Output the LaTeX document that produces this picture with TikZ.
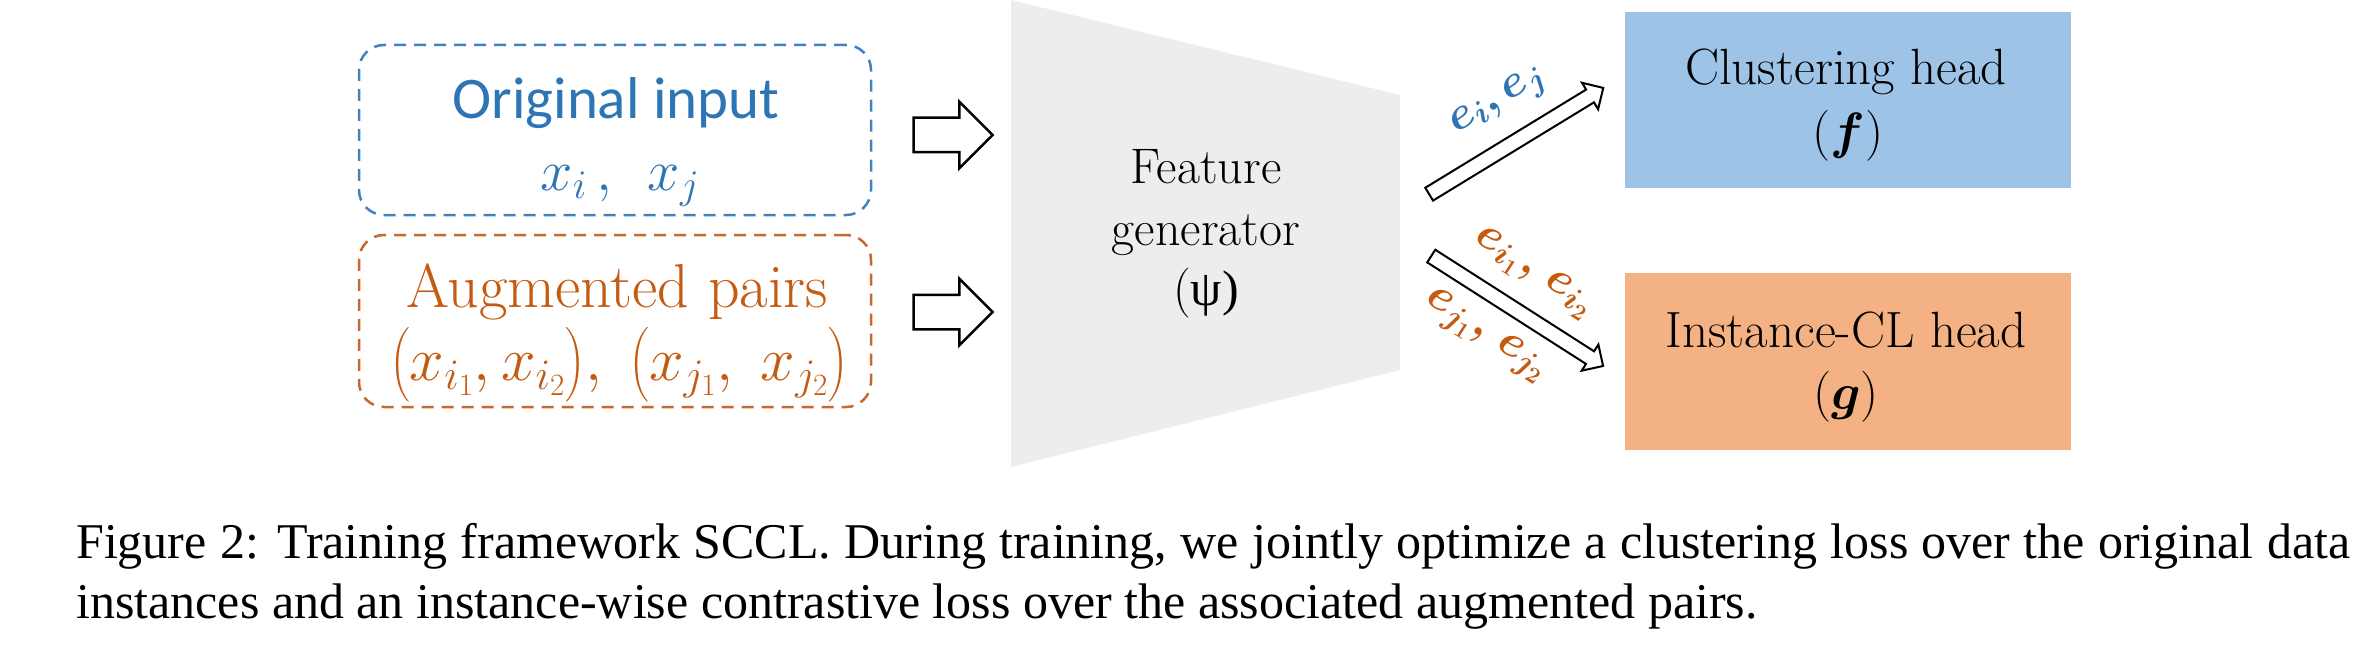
\RequirePackage{fix-cm}
\documentclass[tikz,border=0pt]{standalone}
\usepackage{fontspec}
\usepackage{amsmath}
\usepackage{bm}
\usetikzlibrary{shapes.arrows}
\newfontfamily\calibfont{Carlito}
\newfontfamily\capfont{Liberation Serif}
\definecolor{tblue}{HTML}{2E75B6}
\definecolor{dblue}{HTML}{4281C2}
\definecolor{torange}{HTML}{C55A11}
\definecolor{dorange}{HTML}{C8682E}
\definecolor{fblue}{HTML}{9DC3E6}
\definecolor{forange}{HTML}{F4B183}
\definecolor{fgray}{HTML}{EDEDED}
\newcommand{\fs}[1]{\fontsize{#1}{#1}\selectfont}
\begin{document}
\begin{tikzpicture}[x=1pt,y=-1pt,
  inbox/.style={line width=2.5pt, dash pattern=on 12pt off 8pt, rounded corners=25pt,
    minimum width=512pt, minimum height=170pt, inner sep=0pt},
  headbox/.style={minimum width=446pt, minimum height=175pt, inner sep=0pt},
  txt/.style={inner sep=0pt, anchor=base},
  bigarrow/.style={single arrow, draw=black, fill=white, line width=2.5pt, inner sep=0pt,
    inner ysep=16pt, single arrow head extend=16pt, single arrow head indent=0pt,
    minimum height=79pt},
  thinarrow/.style={single arrow, draw=black, fill=white, line width=2pt, inner sep=0pt,
    inner ysep=6.5pt, single arrow head extend=8pt, single arrow head indent=0pt,
    minimum height=204pt},
  elabel/.style={inner sep=0pt, font=\fs{46}}
]
\useasboundingbox (0,0) rectangle (2380,658);

% input boxes
\node[inbox, draw=dblue] (orig) at (615,130) {};
\node[inbox, draw=dorange, minimum height=172pt] (aug) at (615,321) {};
\node[txt, text=tblue, font=\calibfont\fs{59}] (origt) at (616,119) {Original input};
\node[txt, text=tblue, font=\fs{58}] (origx) at (620,190) {$x_i\,,\;\, x_j$};
\node[txt, text=torange, font=\fs{62}] (augt) at (617,307) {Augmented pairs};
\node[txt, text=torange, font=\fs{62}] (augx) at (619,380) {$\bigl(x_{i_1}, x_{i_2}\bigr),\;\bigl(x_{j_1},\; x_{j_2}\bigr)$};

% horizontal block arrows
\node[bigarrow] (a1) at (944.5,135) {};
\node[bigarrow] (a2) at (944.5,312) {};

% feature generator
\fill[fgray] (1011,0) -- (1400,95) -- (1400,370) -- (1011,467) -- cycle;
\node[txt, font=\fs{50}] (fg1) at (1206,183) {Feature};
\node[txt, font=\fs{50}] (fg2) at (1206,245) {generator};
\node[txt, font=\fs{50}] (fg3) at (1206,305) {(\capfont ψ)};

% heads
\node[headbox, fill=fblue] (clu) at (1848,100) {};
\node[headbox, fill=forange, minimum height=177pt] (ins) at (1848,361.5) {};
\node[txt, font=\fs{51}] (clut) at (1846,85) {Clustering head};
\node[txt, font=\fs{51}] (cluf) at (1848,149) {$(\bm{f})$};
\node[txt, font=\fs{51}] (inst) at (1846,347) {Instance-CL head};
\node[txt, font=\fs{51}] (insg) at (1846,409) {$(\bm{g})$};

% diagonal block arrows
\node[thinarrow, rotate=31.4] (d1) at (1513,143) {};
\node[thinarrow, rotate=-32.6] (d2) at (1514,309) {};
\node[elabel, text=tblue, rotate=31.4] (l1) at (1499,103) {$\bm{e_{i},e_{j}}$};
\node[elabel, text=torange, rotate=-32.6] (l2) at (1533,273) {$\bm{e_{i_1},\,e_{i_2}}$};
\node[elabel, text=torange, rotate=-32.6] (l3) at (1485,336) {$\bm{e_{j_1},\,e_{j_2}}$};

% caption
\node[inner sep=0pt, anchor=base west, font=\capfont\fs{50}] (cap1) at (76,558)
  {\makebox[2274pt][s]{Figure 2: Training framework SCCL. During training, we jointly optimize a clustering loss over the original data}};
\node[inner sep=0pt, anchor=base west, font=\capfont\fs{50}] (cap2) at (76,618)
  {instances and an instance-wise contrastive loss over the associated augmented pairs.};
\end{tikzpicture}
\end{document}
